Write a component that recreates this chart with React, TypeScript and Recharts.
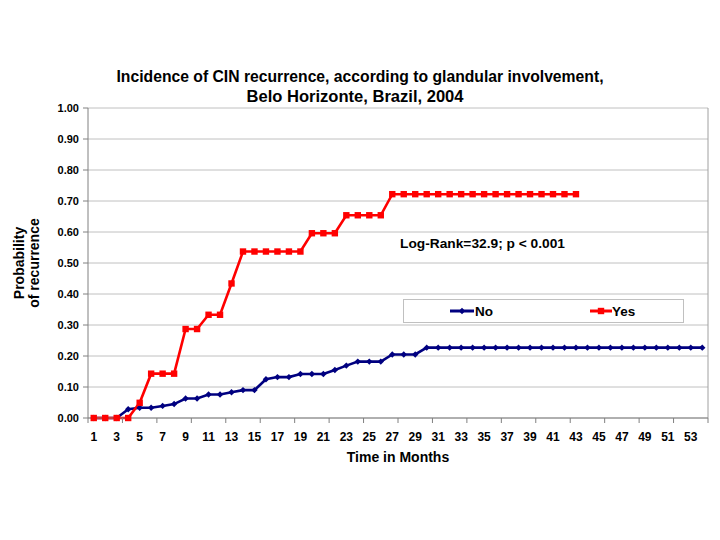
import React from "react";
import {
  LineChart,
  Line,
  XAxis,
  YAxis,
  CartesianGrid,
  ReferenceLine,
  Legend,
} from "recharts";

const months = [
  1, 2, 3, 4, 5, 6, 7, 8, 9, 10, 11, 12, 13, 14, 15, 16, 17, 18, 19, 20, 21, 22, 23, 24, 25, 26, 27,
  28, 29, 30, 31, 32, 33, 34, 35, 36, 37, 38, 39, 40, 41, 42, 43, 44, 45, 46, 47, 48, 49, 50, 51, 52,
  53, 54,
];

const noValues = [
  0, 0, 0, 0.028, 0.033, 0.033, 0.039, 0.045, 0.063, 0.063, 0.076, 0.076, 0.083, 0.09, 0.09, 0.125,
  0.132, 0.132, 0.142, 0.142, 0.142, 0.155, 0.169, 0.182, 0.182, 0.182, 0.205, 0.205, 0.205, 0.227,
  0.227, 0.227, 0.227, 0.227, 0.227, 0.227, 0.227, 0.227, 0.227, 0.227, 0.227, 0.227, 0.227, 0.227,
  0.227, 0.227, 0.227, 0.227, 0.227, 0.227, 0.227, 0.227, 0.227, 0.227,
];

const yesValues = [
  0, 0, 0, 0, 0.049, 0.143, 0.143, 0.143, 0.287, 0.287, 0.333, 0.333, 0.434, 0.537, 0.537, 0.537,
  0.537, 0.537, 0.537, 0.596, 0.596, 0.596, 0.654, 0.654, 0.654, 0.654, 0.722, 0.722, 0.722, 0.722,
  0.722, 0.722, 0.722, 0.722, 0.722, 0.722, 0.722, 0.722, 0.722, 0.722, 0.722, 0.722, 0.722,
];

const xTickLabels = [
  1, 3, 5, 7, 9, 11, 13, 15, 17, 19, 21, 23, 25, 27, 29, 31, 33, 35, 37, 39, 41, 43, 45, 47, 49, 51, 53,
];
const xTickMarks = [0.5, 3.5, 6.5, 9.5, 12.5, 15.5, 18.5, 21.5, 24.5, 27.5, 30.5, 33.5, 36.5, 39.5, 42.5, 45.5, 48.5, 51.5, 54.5];
const yTicks = [0, 0.1, 0.2, 0.3, 0.4, 0.5, 0.6, 0.7, 0.8, 0.9, 1.0];

const titleLines = [
  "Incidence of CIN recurrence, according to glandular involvement,",
  "Belo Horizonte, Brazil, 2004",
];
const yLabelLines = ["Probability", "of recurrence"];
const xLabel = "Time in Months";
const annotation = "Log-Rank=32.9; p < 0.001";
const seriesNames = ["No", "Yes"];

const data = months.map((m, i) => ({
  month: m,
  no: noValues[i],
  yes: i < yesValues.length ? yesValues[i] : null,
}));

const allXTicks = [...xTickMarks, ...xTickLabels].sort((a, b) => a - b);

const FONT = '"Liberation Sans", Arial, Helvetica, sans-serif';
const RED = "#ff0000";
const NAVY = "#000080";

const XTick = (props: any) => {
  const { x, y, payload } = props;
  const v = payload.value;
  if (Number.isInteger(v)) {
    return (
      <text x={x} y={y + 23} textAnchor="middle" fontFamily={FONT} fontWeight="bold" fontSize={12} fill="#000">
        {v}
      </text>
    );
  }
  return <line x1={x} x2={x} y1={y} y2={y + 5} stroke="#808080" strokeWidth={1} />;
};

const SquareDot = (props: any) => {
  const { cx, cy, index } = props;
  if (cx == null || cy == null || props.value == null) return <g key={`s${index}`} />;
  return <rect key={`s${index}`} x={cx - 3.2} y={cy - 3.2} width={6.4} height={6.4} fill={RED} />;
};

const DiamondDot = (props: any) => {
  const { cx, cy, index } = props;
  if (cx == null || cy == null) return <g key={`d${index}`} />;
  const r = 3.2;
  return (
    <polygon
      key={`d${index}`}
      points={`${cx},${cy - r} ${cx + r},${cy} ${cx},${cy + r} ${cx - r},${cy}`}
      fill={NAVY}
    />
  );
};

const LegendBox = () => (
  <svg width={281} height={24} style={{ display: "block" }}>
    <rect x={0.5} y={0.5} width={280} height={23} fill="#fff" stroke="#c0c0c0" />
    <line x1={47} x2={71} y1={12} y2={12} stroke={NAVY} strokeWidth={3} />
    <polygon points="59,8.8 62.2,12 59,15.2 55.8,12" fill={NAVY} />
    <text x={72} y={16.5} fontFamily={FONT} fontWeight="bold" fontSize={13.5} fill="#000">
      {seriesNames[0]}
    </text>
    <line x1={187} x2={209} y1={12} y2={12} stroke={RED} strokeWidth={3} />
    <rect x={194.8} y={8.8} width={6.4} height={6.4} fill={RED} />
    <text x={209} y={16.5} fontFamily={FONT} fontWeight="bold" fontSize={13.5} fill="#000">
      {seriesNames[1]}
    </text>
  </svg>
);

export default function App() {
  return (
    <div style={{ position: "absolute", left: 0, top: 0, width: 720, height: 540, background: "#fff" }}>
      <LineChart
        width={720}
        height={540}
        data={data}
        margin={{ top: 108, right: 12, bottom: 92, left: 28 }}
      >
        <CartesianGrid vertical={false} stroke="#c0c0c0" strokeWidth={1} />
        <XAxis
          dataKey="month"
          type="number"
          domain={[0.5, 54.5]}
          ticks={allXTicks}
          interval={0}
          tick={<XTick />}
          tickLine={false}
          tickSize={0}
          tickMargin={0}
          height={30}
          axisLine={{ stroke: "#808080", strokeWidth: 1 }}
          allowDataOverflow
        />
        <YAxis
          type="number"
          domain={[0, 1]}
          ticks={yTicks}
          interval={0}
          width={60}
          tickSize={5}
          tickMargin={4}
          tickFormatter={(v: number) => v.toFixed(2)}
          tick={{ fontFamily: FONT, fontWeight: "bold", fontSize: 11, fill: "#000" }}
          tickLine={{ stroke: "#808080" }}
          axisLine={{ stroke: "#808080", strokeWidth: 1 }}
        />
        <ReferenceLine x={54.5} stroke="#a0a0a0" strokeWidth={1} />
        <Line
          dataKey="no"
          name={seriesNames[0]}
          stroke={NAVY}
          strokeWidth={2.6}
          type="linear"
          dot={<DiamondDot />}
          activeDot={false}
          isAnimationActive={false}
        />
        <Line
          dataKey="yes"
          name={seriesNames[1]}
          stroke={RED}
          strokeWidth={2.6}
          type="linear"
          dot={<SquareDot />}
          activeDot={false}
          connectNulls={false}
          isAnimationActive={false}
        />
        <Legend
          layout="vertical"
          align="center"
          verticalAlign="middle"
          width={281}
          height={24}
          wrapperStyle={{ position: "absolute", left: 403, top: 299, width: 281, height: 24 }}
          content={() => <LegendBox />}
        />
      </LineChart>
      <svg
        width={720}
        height={540}
        style={{ position: "absolute", left: 0, top: 0, pointerEvents: "none" }}
      >
        <text x={360} y={82} textAnchor="middle" fontFamily={FONT} fontWeight="bold" fontSize={16.5} textLength={487} lengthAdjust="spacingAndGlyphs">
          {titleLines[0]}
        </text>
        <text x={355} y={102} textAnchor="middle" fontFamily={FONT} fontWeight="bold" fontSize={16.5} textLength={217} lengthAdjust="spacingAndGlyphs">
          {titleLines[1]}
        </text>
        <text
          transform="translate(24,263) rotate(-90)"
          textAnchor="middle"
          fontFamily={FONT}
          fontWeight="bold"
          fontSize={14}
        >
          {yLabelLines[0]}
        </text>
        <text
          transform="translate(39,263) rotate(-90)"
          textAnchor="middle"
          fontFamily={FONT}
          fontWeight="bold"
          fontSize={14}
        >
          {yLabelLines[1]}
        </text>
        <text x={398} y={462} textAnchor="middle" fontFamily={FONT} fontWeight="bold" fontSize={14}>
          {xLabel}
        </text>
        <text x={400} y={248} fontFamily={FONT} fontWeight="bold" fontSize={13.5} textLength={165} lengthAdjust="spacingAndGlyphs">
          {annotation}
        </text>
      </svg>
    </div>
  );
}
